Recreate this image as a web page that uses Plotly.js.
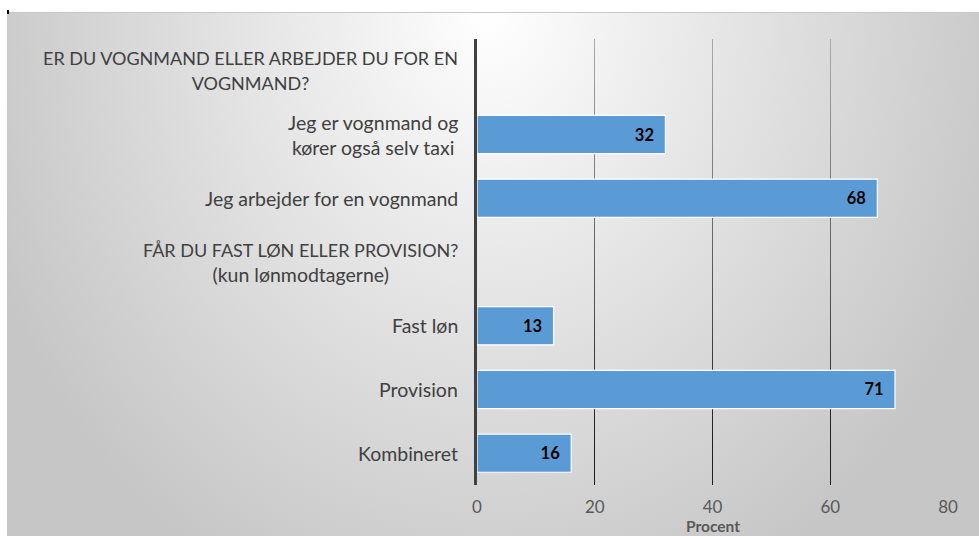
<!DOCTYPE html>
<html>
<head>
<meta charset="utf-8">
<script src="https://cdn.plot.ly/plotly-3.0.1.min.js"></script>
<style>
  html, body { margin: 0; padding: 0; background: #ffffff; }
  #bg { position: absolute; left: 7px; top: 12px; width: 972px; height: 524px;
        border-top: 1px solid #c8c8c8;
        background: radial-gradient(ellipse 540px 640px at 483px 0px, #ffffff 0%, #f0f0f0 25%, #dcdcdc 60%, #c6c6c6 100%); }
  #tick { position: absolute; left: 7px; top: 10px; width: 2px; height: 4px; background: #000; }
  #chart { position: absolute; left: 0; top: 0; width: 979px; height: 536px; }
</style>
</head>
<body>
<div id="bg"></div>
<div id="tick"></div>
<div id="chart"></div>
<script>
// Data
const categories = [
  "ER DU VOGNMAND ELLER ARBEJDER DU FOR EN<br>VOGNMAND?",
  "Jeg er vognmand og<br>kører også selv taxi",
  "Jeg arbejder for en vognmand",
  "FÅR DU FAST LØN ELLER PROVISION?<br>(kun lønmodtagerne)",
  "Fast løn",
  "Provision",
  "Kombineret"
];
const values = [null, 32, 68, null, 13, 71, 16];
const xTicks = [0, 20, 40, 60, 80];
const xTitle = "Procent";

const ids = categories.map((c, i) => "c" + i);
const FONT = "Lato, 'Open Sans', sans-serif";

const trace = {
  type: "bar",
  orientation: "h",
  y: ids,
  x: values,
  marker: { color: "#5B9BD5", line: { color: "#ffffff", width: 1.2 } },
  width: 0.6,
  text: values.map(v => v === null ? "" : "<b>" + v + "</b>\u00a0\u00a0"),
  textposition: "inside",
  insidetextanchor: "end",
  constraintext: "none",
  textfont: { family: FONT, size: 16.5, color: "#000000" },
  hoverinfo: "skip",
  cliponaxis: false
};

// upper-case lines are drawn slightly smaller (Lato capitals run wider)
function formatLabel(c) {
  return c.split("<br>").map(line =>
    (line === line.toUpperCase() && /[A-ZÆØÅ]/.test(line))
      ? "<span style='font-size:18px'>" + line + "</span>" : line
  ).join("<br>");
}

const annotations = categories.map((c, i) => ({
  xref: "paper", yref: "y",
  x: -0.037, y: ids[i],
  xanchor: "right", yanchor: "middle",
  align: "center",
  text: formatLabel(c),
  showarrow: false,
  font: { family: FONT, size: 19.5, color: "#404040" }
}));

annotations.push({
  xref: "paper", yref: "paper",
  x: 0.5, y: 0, yshift: -41,
  xanchor: "center", yanchor: "middle",
  borderpad: 0,
  text: "<b>" + xTitle + "</b>",
  showarrow: false,
  font: { family: FONT, size: 15.5, color: "#595959" }
});

const layout = {
  width: 979, height: 536,
  margin: { l: 477, r: 31, t: 39, b: 51 },
  paper_bgcolor: "rgba(0,0,0,0)",
  plot_bgcolor: "rgba(0,0,0,0)",
  showlegend: false,
  xaxis: {
    range: [0, 80],
    tickvals: xTicks,
    ticktext: xTicks.map(String),
    showgrid: true,
    gridcolor: "#6a6a6a",
    gridwidth: 1,
    zeroline: false,
    showline: false,
    ticks: "",
    ticklabelstandoff: 10,
    tickfont: { family: FONT, size: 17, color: "#595959" },
    fixedrange: true
  },
  yaxis: {
    type: "category",
    categoryorder: "array",
    categoryarray: ids,
    autorange: "reversed",
    showticklabels: false,
    showgrid: false,
    showline: true,
    linecolor: "#404040",
    linewidth: 3,
    ticks: "",
    fixedrange: true
  },
  bargap: 0.4,
  annotations: annotations
};

function styleGrid() {
  const gd = document.getElementById("chart");
  const svg = gd.querySelector("svg.main-svg");
  if (!svg) return;
  const ns = "http://www.w3.org/2000/svg";
  let defs = svg.querySelector("defs");
  if (!defs) { defs = document.createElementNS(ns, "defs"); svg.insertBefore(defs, svg.firstChild); }
  if (!svg.querySelector("#gridgrad")) {
    const lg = document.createElementNS(ns, "linearGradient");
    lg.setAttribute("id", "gridgrad");
    lg.setAttribute("gradientUnits", "userSpaceOnUse");
    lg.setAttribute("x1", "0"); lg.setAttribute("y1", "0");
    lg.setAttribute("x2", "0"); lg.setAttribute("y2", String(536 - 39 - 51));
    [["0", "#b8b8b8"], ["1", "#1e1e1e"]].forEach(([o, c]) => {
      const s = document.createElementNS(ns, "stop");
      s.setAttribute("offset", o); s.setAttribute("stop-color", c);
      lg.appendChild(s);
    });
    defs.appendChild(lg);
  }
  gd.querySelectorAll("path.xgrid").forEach(p => {
    p.style.stroke = "url(#gridgrad)";
    p.style.strokeOpacity = "1";
  });
}

Plotly.newPlot("chart", [trace], layout, { displayModeBar: false, staticPlot: true }).then(styleGrid);
</script>
</body>
</html>
